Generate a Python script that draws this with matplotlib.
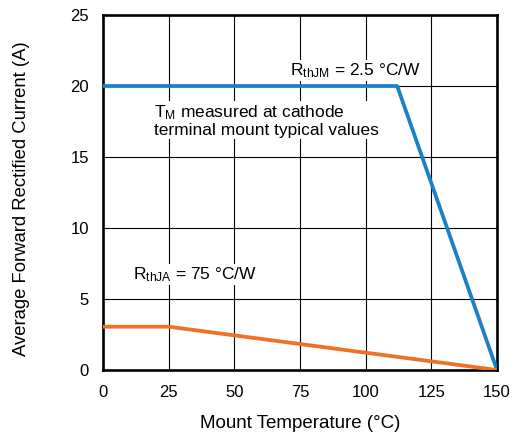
import matplotlib
matplotlib.use("Agg")
import matplotlib.pyplot as plt

# Derating curves
temp_jm = [0, 112, 150]
current_jm = [20, 20, 0]
temp_ja = [0, 25, 150]
current_ja = [3.05, 3.05, 0]

x_ticks = [0, 25, 50, 75, 100, 125, 150]
y_ticks = [0, 5, 10, 15, 20, 25]

plt.rcParams["font.family"] = ["Liberation Sans", "DejaVu Sans"]
plt.rcParams["font.size"] = 12

fig = plt.figure(figsize=(5.13, 4.36), dpi=100)
ax = fig.add_axes([103 / 513, 1 - 370 / 436, 394 / 513, 355 / 436])

ax.plot(temp_jm, current_jm, color="#1a80c8", lw=2.7, solid_capstyle="butt", zorder=3)
ax.plot(temp_ja, current_ja, color="#f07024", lw=2.7, solid_capstyle="butt", zorder=3)

ax.set_xlim(0, 150)
ax.set_ylim(0, 25)
ax.set_xticks(x_ticks)
ax.set_yticks(y_ticks)
ax.grid(True, color="black", lw=0.8)
ax.tick_params(length=0, labelsize=12)
ax.tick_params(axis="x", pad=11)
ax.tick_params(axis="y", pad=10)
for s in ax.spines.values():
    s.set_linewidth(1.9)

ax.set_xlabel("Mount Temperature (°C)", fontsize=13.5, labelpad=10.5)
ax.set_ylabel("Average Forward Rectified Current (A)", fontsize=13.3)
ax.yaxis.set_label_coords(-0.186, 0.482)

box = dict(facecolor="white", edgecolor="none", pad=1)
ax.text(71.3, 20.75, r"R$\mathregular{_{thJM}}$ = 2.5 °C/W", ha="left", va="baseline",
        fontsize=12.5, bbox=box)
ax.text(19.4, 18.75, "T$\\mathregular{_M}$ measured at cathode\nterminal mount typical values",
        ha="left", va="top", linespacing=1.05, fontsize=12.5, bbox=box)
ax.text(11.4, 6.4, r"R$\mathregular{_{thJA}}$ = 75 °C/W", ha="left", va="baseline",
        fontsize=12.5, bbox=box)

fig.savefig("out.png", dpi=100)
